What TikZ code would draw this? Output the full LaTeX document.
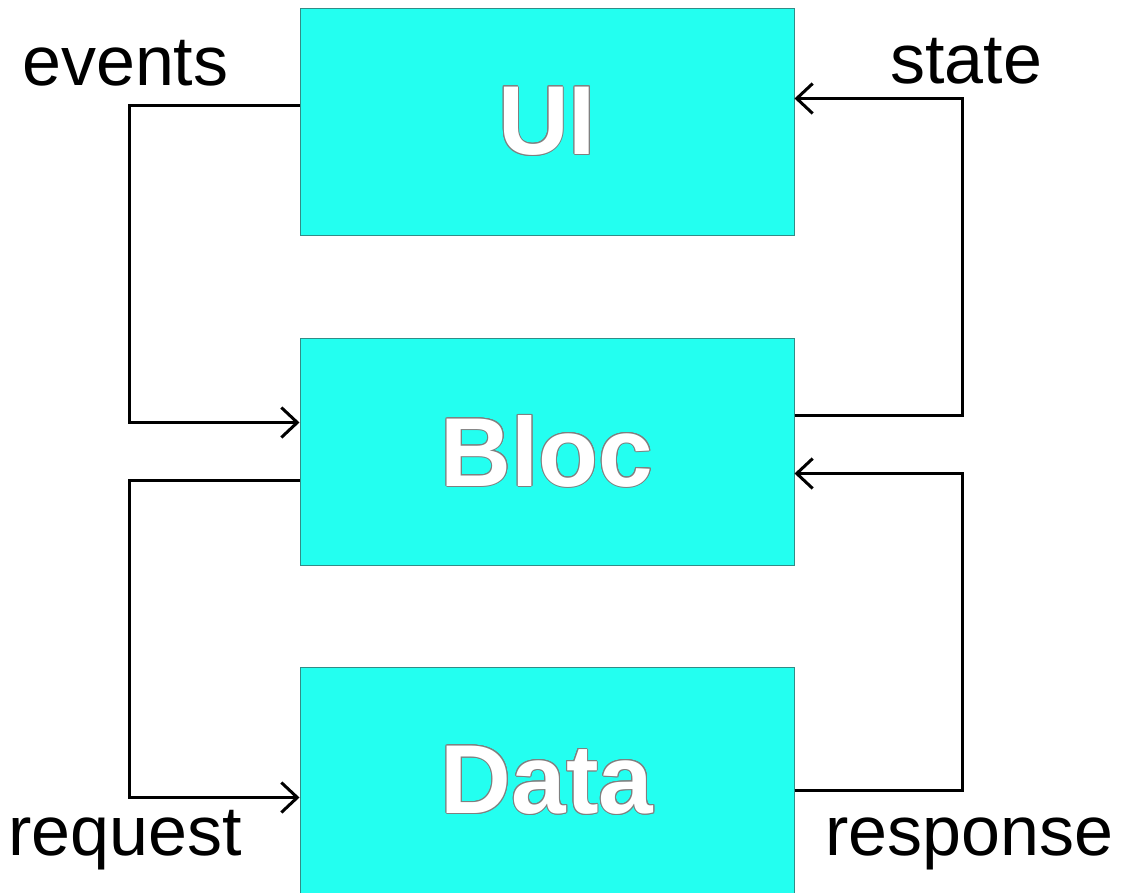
\documentclass[tikz,border=0pt]{standalone}
\usepackage{fontspec}
\setmainfont{Liberation Sans}
\usepackage{contour}
\contourlength{1pt}
\usetikzlibrary{arrows.meta,calc}
\definecolor{boxfill}{RGB}{35,255,240}
\definecolor{boxline}{RGB}{50,140,135}
\tikzset{
  layer/.style={draw=boxline, line width=1pt, fill=boxfill,
    minimum width=494pt, minimum height=227pt, inner sep=0pt,
    text=white, font=\fontsize{98}{98}\selectfont\bfseries},
  flow/.style={line width=3pt, -{Straight Barb[length=16pt,width=30pt]}},
  tag/.style={anchor=base west, inner sep=0pt, font=\fontsize{70}{70}\selectfont}
}
\begin{document}
\begin{tikzpicture}[x=1pt,y=-1pt]
  \clip (0,0) rectangle (1124,892);
  \fill[white] (0,0) rectangle (1124,892);

  % the three layers
  \node[layer] (UI)   at (547,121.5) {\contour{gray}{UI}};
  \node[layer] (Bloc) at (547,451.5) {\contour{gray}{Bloc}};
  \node[layer] (Data) at (547,780.5) {\contour{gray}{Data}};

  % events: UI -> Bloc
  \draw[flow] ($(UI.north west)+(0,98)$) -- ++(-170,0) |- ($(Bloc.north west)+(0,85)$);
  % state: Bloc -> UI
  \draw[flow] ($(Bloc.north east)+(0,78)$) -- ++(168,0) |- ($(UI.north east)+(0,91)$);
  % request: Bloc -> Data
  \draw[flow] ($(Bloc.north west)+(0,143)$) -- ++(-170,0) |- ($(Data.north west)+(0,131)$);
  % response: Data -> Bloc
  \draw[flow] ($(Data.north east)+(0,124)$) -- ++(168,0) |- ($(Bloc.north east)+(0,136)$);

  % flow labels
  \node[tag] (events)   at (22,85)  {events};
  \node[tag] (state)    at (890,83) {state};
  \node[tag] (request)  at (8,855)  {request};
  \node[tag] (response) at (825,855) {response};
\end{tikzpicture}
\end{document}
